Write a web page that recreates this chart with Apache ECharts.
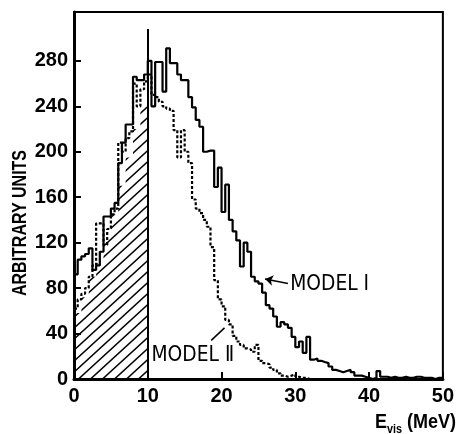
<!DOCTYPE html>
<html><head><meta charset="utf-8">
<script src="https://cdn.jsdelivr.net/npm/echarts@6/dist/echarts.min.js"></script>
<style>html,body{margin:0;padding:0;background:#fff}#c{width:457px;height:434px}</style>
</head><body><div id="c"></div>
<script>
// ---- data (arbitrary units per energy bin) ----
const binWidth = 0.5; // MeV, Model I / Model II bins
const modelI = [
  92,105,108,110,115,96,100,112,143,143,150,155,190,208,224,224,266,263,263,268,
  280,240,279,279,253,291,278,278,268,263,263,248,239,228,222,200,201,201,169,186,
  147,171,140,130,122,99,120,112,90,86,84,76,65,62,55,46,50,48,45,37,
  28,33,23,37,17,18,16,15,14,11,8,7,6,7,8,6,3,3,2,1,
  0,1,7,2,2,1,2,1,1,2,1,1,2,2,1,1,1,0,1,1
];
const modelII = [
  62,70,75,80,90,100,137,137,118,132,145,150,208,200,212,218,260,240,255,262,
  268,250,248,244,240,238,236,219,195,219,200,190,158,150,146,140,134,116,87,70,
  64,52,48,38,33,30,27,26,24,30,16,14,13,10,8,5,3,2,3,4,
  2,1,1,0
];
const hatchWidth = 1; // MeV
const hatched = [58,72,90,102,125,145,170,195,220,240];
const cutX = 10, cutTop = 308;
const xTicks = [0,10,20,30,40,50];
const yTicks = [0,40,80,120,160,200,240,280];
const yMax = 323;
const labelModelI = 'MODEL Ⅰ', labelModelII = 'MODEL Ⅱ';
const yTitle = 'ARBITRARY UNITS';

function steps(vals, w){
  const pts = vals.map((v,i)=>[i*w, v]);
  pts.push([vals.length*w, vals[vals.length-1]]);
  return pts;
}

// hatch pattern
const pc = document.createElement('canvas');
const pw = 12, ph = 11;
pc.width = pw; pc.height = ph;
const g = pc.getContext('2d');
g.strokeStyle = '#000'; g.lineWidth = 1.5;
for (const dx of [-pw, 0, pw]) {
  g.beginPath(); g.moveTo(dx - pw, ph*2); g.lineTo(dx + 2*pw, -ph); g.stroke();
}

const FONT = '"Liberation Sans",Arial,sans-serif';
const chart = echarts.init(document.getElementById('c'), null, {renderer:'canvas'});
chart.setOption({
  animation:false,
  backgroundColor:'#fff',
  grid:{left:74,right:10,top:12,bottom:55,show:true,borderColor:'#000',borderWidth:2,containLabel:false},
  xAxis:{type:'value',min:xTicks[0],max:xTicks[xTicks.length-1],interval:10,
    axisLine:{lineStyle:{color:'#000',width:3}},
    axisTick:{inside:true,length:7,lineStyle:{color:'#000',width:2}},
    axisLabel:{color:'#000',fontSize:20,fontWeight:'bold',fontFamily:FONT,margin:7},
    splitLine:{show:false}},
  yAxis:{type:'value',min:0,max:yMax,interval:40,
    axisLine:{lineStyle:{color:'#000',width:3}},
    axisTick:{inside:true,length:7,lineStyle:{color:'#000',width:2},customValues:yTicks},
    axisLabel:{color:'#000',fontSize:20,fontWeight:'bold',fontFamily:FONT,margin:6,
      customValues:yTicks,formatter:v=>(yTicks.indexOf(v)>=0?String(v):'')},
    splitLine:{show:false}},
  series:[
    {type:'line',name:'hatched',step:'end',data:steps(hatched,hatchWidth),symbol:'none',
     lineStyle:{width:0},areaStyle:{color:{image:pc,repeat:'repeat'},opacity:1},z:1,
     markLine:{silent:true,symbol:'none',label:{show:false},
       lineStyle:{color:'#000',width:2,type:'solid'},
       data:[[{coord:[cutX,0]},{coord:[cutX,cutTop]}]]}},
    {type:'line',name:'Model II',step:'end',data:steps(modelII,binWidth),symbol:'none',
     lineStyle:{color:'#000',width:2.2,type:[3,2]},z:3,
     markLine:{silent:true,symbol:'none',label:{show:false},
       lineStyle:{color:'#000',width:1.6,type:'solid'},
       data:[[{coord:[18.6,34]},{coord:[20.4,45]}]]}},
    {type:'line',name:'Model I',step:'end',data:steps(modelI,binWidth),symbol:'none',
     lineStyle:{color:'#000',width:2.2},z:4,
     markLine:{silent:true,symbol:['none','arrow'],symbolSize:8,label:{show:false},
       lineStyle:{color:'#000',width:1.6,type:'solid'},
       data:[[{coord:[29.0,84]},{coord:[25.9,88]}]]}}
  ]
});

const p1 = chart.convertToPixel({gridIndex:0},[29.3,83]);
const p2 = chart.convertToPixel({gridIndex:0},[10.5,21]);
chart.setOption({graphic:[
  {type:'text',x:p1[0],y:p1[1],scaleX:0.85,style:{text:labelModelI,fill:'#000',font:'22px "DejaVu Sans",sans-serif',verticalAlign:'middle',align:'left'}},
  {type:'text',x:p2[0],y:p2[1],scaleX:0.85,style:{text:labelModelII,fill:'#000',font:'22px "DejaVu Sans",sans-serif',verticalAlign:'middle',align:'left'}},
  {type:'text',x:20,y:223,rotation:Math.PI/2,scaleX:0.8,style:{text:yTitle,fill:'#000',font:'bold 20px '+FONT,align:'center',verticalAlign:'middle'}},
  {type:'text',x:456,y:412,scaleX:0.9,style:{text:'{E|E}{s|vis}{n| (MeV)}',fill:'#000',align:'right',verticalAlign:'top',
    rich:{E:{fontSize:20,fontWeight:'bold',fontFamily:FONT,verticalAlign:'bottom',padding:[0,0,4,0]},
          s:{fontSize:12,fontWeight:'bold',fontFamily:FONT,verticalAlign:'bottom'},
          n:{fontSize:20,fontWeight:'bold',fontFamily:FONT,verticalAlign:'bottom',padding:[0,0,4,0]}}}}
]});
</script></body></html>
